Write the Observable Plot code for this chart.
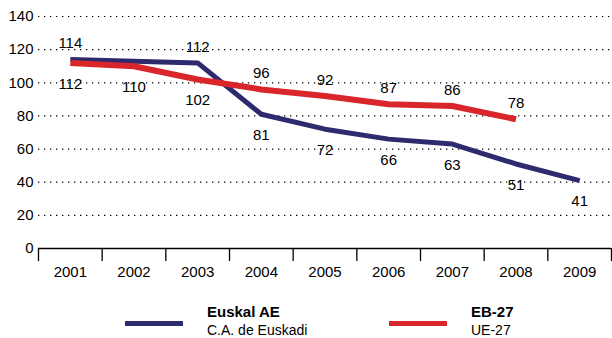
<!DOCTYPE html>
<html>
<head>
<meta charset="utf-8">
<script src="https://cdn.jsdelivr.net/npm/d3@7"></script>
<script src="https://cdn.jsdelivr.net/npm/@observablehq/plot@0.6"></script>
<style>
  html, body { margin: 0; padding: 0; background: #fff; }
  body { font-family: "Liberation Sans", Arial, Helvetica, sans-serif; }
  #wrap { position: relative; width: 612px; height: 338px; }
  #legend { position: absolute; left: 0; top: 285px; width: 612px; height: 53px; }
  .swatch { position: absolute; height: 5px; }
  .lab { position: absolute; font-size: 14px; line-height: 12px; color: #000; white-space: nowrap; }
  .lab.b { font-weight: bold; font-size: 15px; }
</style>
</head>
<body>
<div id="wrap">
  <div id="chart"></div>
  <div id="legend"></div>
</div>
<script>
// Yearly values for the Basque Country (Euskal AE / C.A. de Euskadi) and the EU-27
const years = [2001, 2002, 2003, 2004, 2005, 2006, 2007, 2008, 2009];
const euskalAE = [114, 113, 112, 81, 72, 66, 63, 51, 41];
const eb27 = [112, 110, 102, 96, 92, 87, 86, 78, null];
const yTicks = [0, 20, 40, 60, 80, 100, 120, 140];
const seriesNames = ["Euskal AE", "EB-27"];
const seriesSub = ["C.A. de Euskadi", "UE-27"];
const colors = ["#2e2a6e", "#d8262a"];
// the 2002 Basque value carries no printed label
const unlabelled = [{series: "Euskal AE", year: 2002}];

const rows = [];
years.forEach((y, i) => {
  if (euskalAE[i] != null) rows.push({series: seriesNames[0], year: y, value: euskalAE[i], other: eb27[i]});
  if (eb27[i] != null) rows.push({series: seriesNames[1], year: y, value: eb27[i], other: euskalAE[i]});
});
const labelled = rows.filter(d => !unlabelled.some(u => u.series === d.series && u.year === d.year));
// a label sits above its line when that line is the upper one at that year
const above = labelled.filter(d => d.other != null && d.value > d.other);
const below = labelled.filter(d => !(d.other != null && d.value > d.other));

const boundaries = d3.range(years[0] - 0.5, years[years.length - 1] + 1, 1);
const font = "15px";

const chart = Plot.plot({
  width: 612,
  height: 285,
  marginLeft: 38,
  marginRight: 1,
  marginTop: 16,
  marginBottom: 37,
  style: {fontFamily: '"Liberation Sans", Arial, Helvetica, sans-serif', fontSize: font, color: "#000", background: "#fff"},
  x: {type: "linear", domain: [years[0] - 0.5, years[years.length - 1] + 0.5]},
  y: {domain: [0, 140]},
  color: {domain: seriesNames, range: colors},
  marks: [
    Plot.gridY(yTicks.filter(t => t > 0), {stroke: "#000", strokeOpacity: 1, strokeWidth: 1.2, strokeDasharray: "1.3,4.7"}),
    Plot.axisY({ticks: yTicks, tickSize: 0, tickPadding: 5, fontSize: font, label: null}),
    Plot.axisX({ticks: boundaries, tickSize: 13, tickFormat: () => "", label: null, strokeWidth: 1.3}),
    Plot.axisX({ticks: years, tickSize: 0, tickPadding: 18, tickFormat: d => String(d), fontSize: font, label: null}),
    Plot.ruleY([0], {stroke: "#000", strokeWidth: 1.3}),
    Plot.line(rows.filter(d => d.series === seriesNames[0]), {x: "year", y: "value", stroke: colors[0], strokeWidth: 5, strokeLinecap: "butt", strokeLinejoin: "miter"}),
    Plot.line(rows.filter(d => d.series === seriesNames[1]), {x: "year", y: "value", stroke: colors[1], strokeWidth: 6, strokeLinecap: "butt", strokeLinejoin: "miter"}),
    Plot.text(above, {x: "year", y: "value", text: d => String(d.value), dy: -16, fontSize: font, fill: "#000"}),
    Plot.text(below, {x: "year", y: "value", text: d => String(d.value), dy: 21, fontSize: font, fill: "#000"})
  ]
});
document.getElementById("chart").appendChild(chart);

// legend: a colour swatch with a bold Basque name over the Spanish name
const legend = document.getElementById("legend");
const legendX = [125, 389];
seriesNames.forEach((name, i) => {
  const sw = document.createElement("div");
  sw.className = "swatch";
  sw.style.left = legendX[i] + "px";
  sw.style.top = "36px";
  sw.style.width = "58px";
  sw.style.background = colors[i];
  legend.appendChild(sw);
  const t1 = document.createElement("div");
  t1.className = "lab b";
  t1.textContent = name;
  t1.style.left = (legendX[i] + 82) + "px";
  t1.style.top = "21px";
  legend.appendChild(t1);
  const t2 = document.createElement("div");
  t2.className = "lab";
  t2.textContent = seriesSub[i];
  t2.style.left = (legendX[i] + 82) + "px";
  t2.style.top = "39px";
  legend.appendChild(t2);
});
</script>
</body>
</html>
